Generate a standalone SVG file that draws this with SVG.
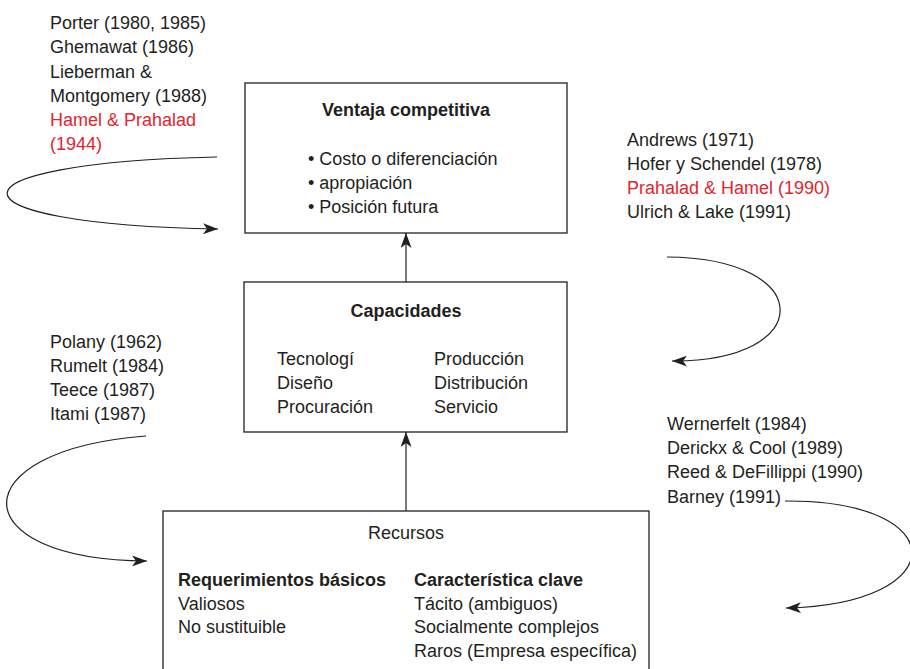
<svg xmlns="http://www.w3.org/2000/svg" width="910" height="669" viewBox="0 0 910 669">
<style>
text{font-family:"Liberation Sans",Arial,sans-serif;font-size:18px;fill:#231f20}
.b{font-weight:bold}
.r{fill:#e0262e}
.m{text-anchor:middle}
.box{fill:#fff;stroke:#231f20;stroke-width:1.3}
.c{fill:none;stroke:#231f20;stroke-width:1.2}
</style>
<defs>
<marker id="ah" markerUnits="userSpaceOnUse" markerWidth="15" markerHeight="11" viewBox="0 0 15 11" refX="15" refY="5.5" orient="auto">
<path d="M0,0 L15,5.5 L0,11 L4,5.5 z" fill="#231f20"/>
</marker>
</defs>
<rect width="910" height="669" fill="#fff"/>
<g id="ventaja">
<rect class="box" x="245" y="83" width="322" height="150"/>
<text class="b m" x="406" y="116">Ventaja competitiva</text>
<text x="308" y="165">• Costo o diferenciación</text>
<text x="308" y="189">• apropiación</text>
<text x="308" y="213">• Posición futura</text>
</g>
<g id="capacidades">
<rect class="box" x="244" y="282" width="323" height="150"/>
<text class="b m" x="406" y="317">Capacidades</text>
<text x="277" y="365">Tecnologí</text>
<text x="277" y="389">Diseño</text>
<text x="277" y="413">Procuración</text>
<text x="434" y="365">Producción</text>
<text x="434" y="389">Distribución</text>
<text x="434" y="413">Servicio</text>
</g>
<g id="recursos">
<rect class="box" x="163" y="511" width="486" height="170"/>
<text class="m" x="406" y="539">Recursos</text>
<text class="b" x="178" y="586">Requerimientos básicos</text>
<text x="178" y="610">Valiosos</text>
<text x="178" y="633">No sustituible</text>
<text class="b" x="414" y="586">Característica clave</text>
<text x="414" y="610">Tácito (ambiguos)</text>
<text x="414" y="633">Socialmente complejos</text>
<text x="414" y="657">Raros (Empresa específica)</text>
</g>
<g id="autores-ventaja">
<text x="50" y="29">Porter (1980, 1985)</text>
<text x="50" y="53">Ghemawat (1986)</text>
<text x="50" y="78">Lieberman &amp;</text>
<text x="50" y="102">Montgomery (1988)</text>
<text class="r" x="50" y="126">Hamel &amp; Prahalad</text>
<text class="r" x="50" y="150">(1944)</text>
</g>
<g id="autores-capacidades">
<text x="627" y="146">Andrews (1971)</text>
<text x="627" y="170">Hofer y Schendel (1978)</text>
<text class="r" x="627" y="194">Prahalad &amp; Hamel (1990)</text>
<text x="627" y="218">Ulrich &amp; Lake (1991)</text>
</g>
<g id="autores-recursos-izq">
<text x="50" y="348">Polany (1962)</text>
<text x="50" y="372">Rumelt (1984)</text>
<text x="50" y="396">Teece (1987)</text>
<text x="50" y="420">Itami (1987)</text>
</g>
<g id="autores-recursos-der">
<text x="667" y="430">Wernerfelt (1984)</text>
<text x="667" y="454">Derickx &amp; Cool (1989)</text>
<text x="667" y="478">Reed &amp; DeFillippi (1990)</text>
<text x="667" y="503">Barney (1991)</text>
</g>
<g id="connectors">
<line class="c" x1="406" y1="282" x2="406" y2="233" marker-end="url(#ah)"/>
<line class="c" x1="406" y1="511" x2="406" y2="432" marker-end="url(#ah)"/>
<path class="c" d="M217,157 C-63,163 -63,224 218,229" marker-end="url(#ah)"/>
<path class="c" d="M667,257 C817,258 817,362 672,361" marker-end="url(#ah)"/>
<path class="c" d="M146,436 C-40,450 -40,560 147,561" marker-end="url(#ah)"/>
<path class="c" d="M785,501 C954,500 954,604 786,608" marker-end="url(#ah)"/>
</g>
</svg>
